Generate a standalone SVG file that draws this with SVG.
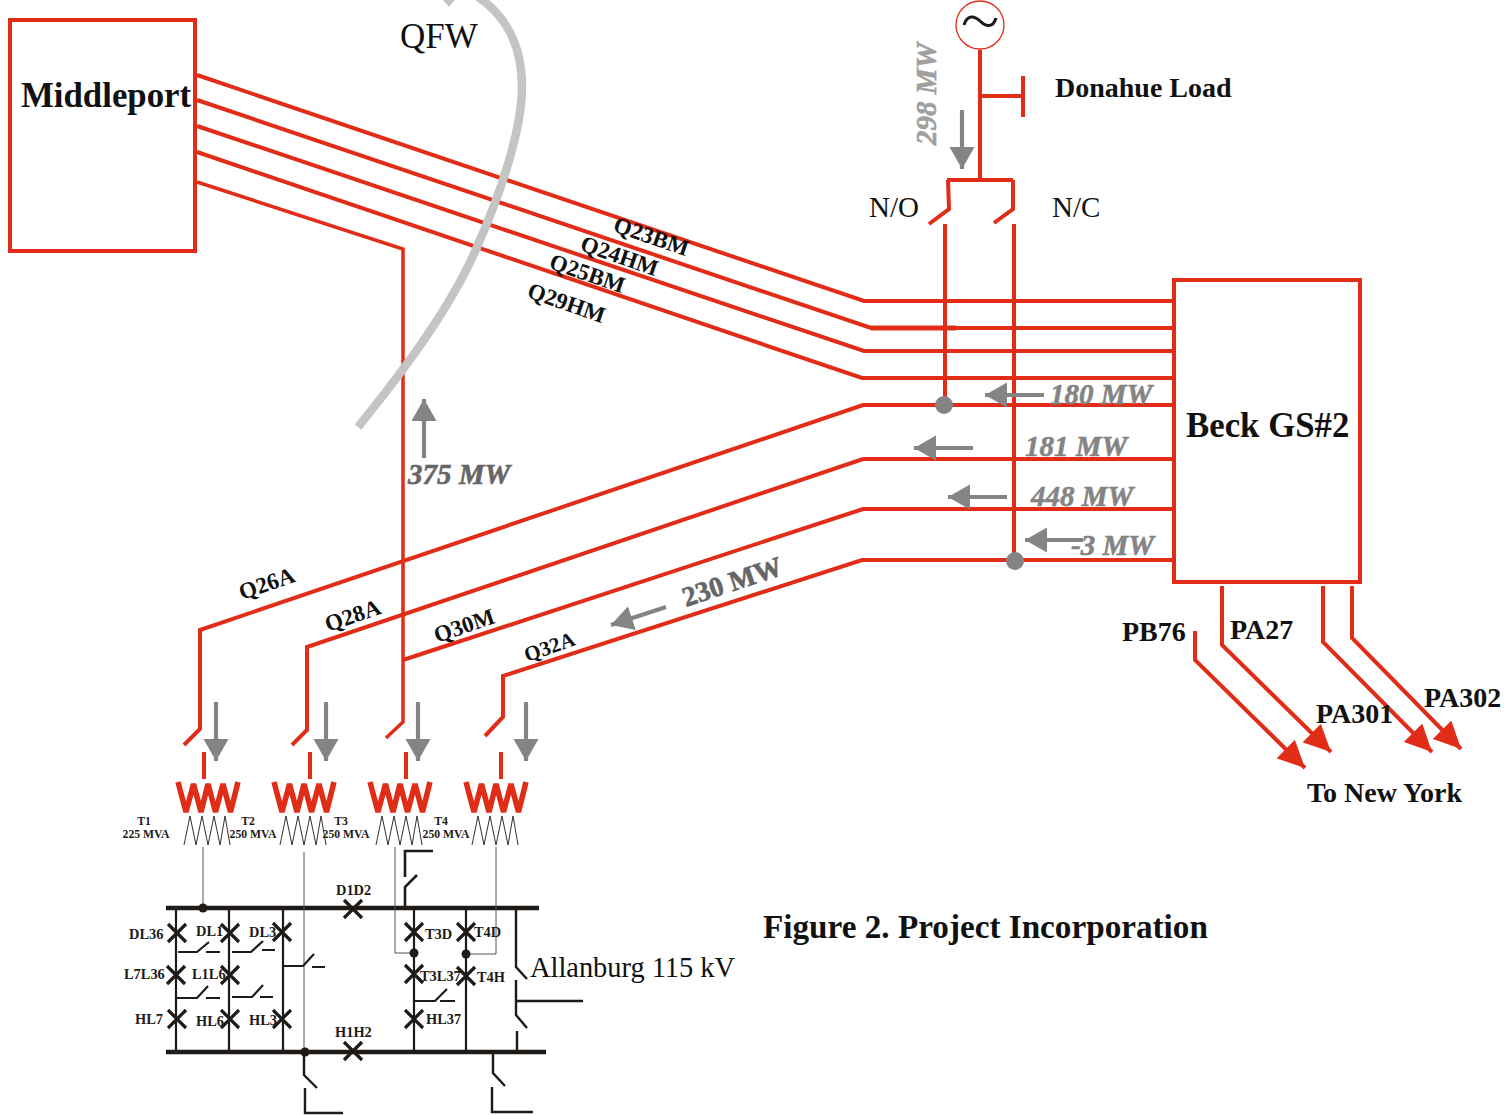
<svg xmlns="http://www.w3.org/2000/svg" width="1507" height="1115" viewBox="0 0 1507 1115">
<defs>
<marker id="g" markerUnits="userSpaceOnUse" markerWidth="26" markerHeight="26" refX="22" refY="12.5" orient="auto"><path d="M0 0L22 12.5L0 25Z" fill="#848484"/></marker>
<marker id="r" markerUnits="userSpaceOnUse" markerWidth="28" markerHeight="26" refX="27" refY="13" orient="auto"><path d="M0 0L27 13L0 26Z" fill="#e12c18"/></marker>
<path id="www" d="M1 0L9 30L16.5 2L24 30L31 2L38.5 30L46 2L53.5 30L61 0" fill="none" stroke="#e12c18" stroke-width="5.5" stroke-linejoin="bevel"/>
<path id="zig" d="M0 29L6 0L12 29L18 0L24 29L30 0L36 29L41 0L46 29" fill="none" stroke="#1e1a17" stroke-width="0.9"/>
<path id="x" d="M-9 -9L9 9M-9 9L9 -9" fill="none" stroke="#1e1a17" stroke-width="3.2"/>
</defs>
<style>
.r{fill:none;stroke:#e12c18;stroke-width:4}
.k{fill:none;stroke:#1e1a17;stroke-width:2.2}
.kb{fill:none;stroke:#1e1a17;stroke-width:2.4}
.th{fill:none;stroke:#555;stroke-width:1}
.ga{fill:none;stroke:#848484;stroke-width:4.2;marker-end:url(#g)}
.ra{fill:none;stroke:#e12c18;stroke-width:4;marker-end:url(#r)}
text{font-family:"Liberation Serif",serif;fill:#111}
.b{font-weight:bold}
.mw{font-weight:bold;font-style:italic;fill:#848484;font-size:29px;stroke:#848484;stroke-width:0.6}
.ln{font-weight:bold;font-size:23px;fill:#111}
.sm{font-weight:bold;font-size:14.4px;fill:#1e1a17}
.t{font-weight:bold;font-size:11.7px;fill:#1e1a17;text-anchor:middle}
</style>
<g id="connectors">
<path class="r" d="M197 75L864 301H1174"/>
<path class="r" d="M197 100L871 328H1174"/>
<path class="r" d="M197 126L864 351H1174"/>
<path class="r" d="M197 152L862 378H1174"/>
<path class="r" d="M871 328H956" style="stroke-width:5"/>
<path class="r" d="M197 182L403 249V722L386 738" style="stroke-width:3.5"/>
<path d="M358 427C400 375 450 310 477 247C500 195 522 130 522 87C522 45 505 15 478 -3" fill="none" stroke="#c4c4c4" stroke-width="8.5"/>
<path d="M443 0H455L449 7Z" fill="#c4c4c4"/>
<path class="r" d="M184 745L200 729V630L863 405H1174"/>
<path class="r" d="M292 745L307 730V647L863 459H1174"/>
<path class="r" d="M403 660L863 509H1174"/>
<path class="r" d="M485 736L503 717V676L862 560H1174"/>
<path class="r" d="M204 752V779M310 752V779M406 752V779M501 752V779"/>
<path class="r" d="M980 50V180M980 96H1023M1023 76V117"/>
<path class="r" d="M947 180H1013M948 180L949 209L929 224M1013 180V209L994 223M945 224V405M1014 224V560"/>
<path class="ra" d="M1195 631V660L1305 768"/>
<path class="ra" d="M1222 586V645L1331 752"/>
<path class="ra" d="M1323 586V642L1432 752"/>
<path class="ra" d="M1352 586V638L1461 749"/>
<path class="ga" d="M216 702V761"/>
<path class="ga" d="M326 702V761"/>
<path class="ga" d="M418 702V761"/>
<path class="ga" d="M526 702V761"/>
<path class="ga" d="M962 110V169"/>
<path class="ga" d="M424 458V399"/>
<path class="ga" d="M1044 395H985"/>
<path class="ga" d="M973 448H914"/>
<path class="ga" d="M1007 497H948"/>
<path class="ga" d="M1083 540H1025"/>
<path class="ga" d="M666 607L611 625"/>
<circle cx="944" cy="405" r="9" fill="#848484"/>
<circle cx="1015" cy="561" r="9" fill="#848484"/>
<path d="M166 908H539M166 1052H546" fill="none" stroke="#1e1a17" stroke-width="4.5"/>
<path class="k" d="M176 908V1052M229 908V1052M283 908V1052M414 908V1052M466 908V1052"/>
<path class="th" d="M203 847V908M304 852V1052M395 847V953H414M496 847V954H466"/>
<path class="kb" d="M405 877V851H433M405 906V887L417 875" style="stroke-width:2.6"/>
<path class="k" d="M178 952H197L209 942M206 952H220M232 952H251L263 941M262 950H275M177 998H197L208 986M206 998H220M232 997H252L263 985M260 997H273M283 966H303L314 954M312 967H325M415 1001H435L447 989M440 1001H455"/>
<path class="kb" d="M516 908V967L527 979M516 980V1015L527 1028M516 1001H583M517 1031V1052"/>
<path class="kb" d="M304 1052V1075L317 1088M305 1088V1113H343M493 1052V1073L505 1086M492 1087V1112H533"/>
<circle cx="203" cy="908" r="4.5" fill="#1e1a17"/>
<circle cx="305" cy="1052" r="4.5" fill="#1e1a17"/>
<circle cx="414" cy="953" r="4.5" fill="#1e1a17"/>
<circle cx="466" cy="954" r="4.5" fill="#1e1a17"/>
</g>
<g id="qfw"><text x="400" y="48" font-size="35">QFW</text></g>
<g id="middleport"><rect x="10" y="20" width="185" height="231" fill="none" stroke="#e12c18" stroke-width="4"/><text x="21" y="107" class="b" font-size="34.8">Middleport</text></g>
<g id="beck"><rect x="1174" y="280" width="186" height="302" fill="none" stroke="#e12c18" stroke-width="4"/><text x="1186" y="437" class="b" font-size="34.8">Beck GS#2</text></g>
<g id="generator"><circle cx="980" cy="25" r="24" fill="#fff" stroke="#e12c18" stroke-width="1.3"/><path d="M964 25C967 15 974 15 980 21C986 27 993 28 996 18" fill="none" stroke="#1e1a17" stroke-width="3"/></g>
<g id="labels">
<text x="1055" y="97" class="b" font-size="28" fill="#1e1a17">Donahue Load</text>
<text x="869" y="217" font-size="29">N/O</text>
<text x="1052" y="217" font-size="29">N/C</text>
<text class="mw" transform="translate(936 145) rotate(-90)" style="fill:#a0a0a0;stroke:#a0a0a0">298 MW</text>
<text class="mw" x="1050" y="404">180 MW</text>
<text class="mw" x="1025" y="456">181 MW</text>
<text class="mw" x="1031" y="506">448 MW</text>
<text class="mw" x="1071" y="555">-3 MW</text>
<text class="mw" x="408" y="484" style="fill:#666;stroke:#666">375 MW</text>
<text class="mw" transform="translate(686 607) rotate(-18.5)" style="font-style:normal;font-size:28px;fill:#666;stroke:#666">230 MW</text>
<text class="ln" transform="translate(612 231) rotate(19)">Q23BM</text>
<text class="ln" transform="translate(579 250) rotate(19)">Q24HM</text>
<text class="ln" transform="translate(548 268) rotate(19)">Q25BM</text>
<text class="ln" transform="translate(526 297) rotate(19)">Q29HM</text>
<text class="ln" transform="translate(242 600) rotate(-19)">Q26A</text>
<text class="ln" transform="translate(328 632) rotate(-19)">Q28A</text>
<text class="ln" transform="translate(437 643) rotate(-19)">Q30M</text>
<text class="ln" transform="translate(527 662) rotate(-19)" style="font-size:21px">Q32A</text>
<text x="1122" y="641" class="b" font-size="28">PB76</text>
<text x="1230" y="639" class="b" font-size="28">PA27</text>
<text x="1316" y="723" class="b" font-size="28">PA301</text>
<text x="1424" y="707" class="b" font-size="28">PA302</text>
<text x="1307" y="802" class="b" font-size="28">To New York</text>
<text x="763" y="938" class="b" font-size="33.2">Figure 2. Project Incorporation</text>
<text x="530" y="977" font-size="28.4">Allanburg 115 kV</text>
</g>
<g id="transformers">
<use href="#www" x="177" y="782"/><use href="#www" x="273" y="782"/><use href="#www" x="369" y="782"/><use href="#www" x="465" y="782"/>
<use href="#zig" x="184" y="816"/><use href="#zig" x="280" y="816"/><use href="#zig" x="376" y="816"/><use href="#zig" x="472" y="816"/>
<text class="t" x="144" y="825">T1</text><text class="t" x="146" y="838">225 MVA</text>
<text class="t" x="248" y="825">T2</text><text class="t" x="253" y="838">250 MVA</text>
<text class="t" x="341" y="825">T3</text><text class="t" x="346" y="838">250 MVA</text>
<text class="t" x="441" y="825">T4</text><text class="t" x="446" y="838">250 MVA</text>
</g>
<g id="breakers">
<use href="#x" x="353" y="909"/><use href="#x" x="353" y="1051"/>
<use href="#x" x="177" y="933"/><use href="#x" x="230" y="933"/><use href="#x" x="282" y="932"/><use href="#x" x="414" y="932"/><use href="#x" x="466" y="932"/>
<use href="#x" x="176" y="975"/><use href="#x" x="230" y="975"/><use href="#x" x="414" y="974"/><use href="#x" x="466" y="976"/>
<use href="#x" x="177" y="1019"/><use href="#x" x="230" y="1019"/><use href="#x" x="282" y="1019"/><use href="#x" x="414" y="1019"/>
<text class="sm" x="336" y="895">D1D2</text><text class="sm" x="335" y="1037">H1H2</text>
<text class="sm" x="129" y="939">DL36</text><text class="sm" x="196" y="936">DL1</text><text class="sm" x="249" y="937">DL3</text>
<text class="sm" x="425" y="939">T3D</text><text class="sm" x="474" y="937">T4D</text>
<text class="sm" x="124" y="979">L7L36</text><text class="sm" x="192" y="979">L1L6</text>
<text class="sm" x="420" y="981">T3L37</text><text class="sm" x="477" y="982">T4H</text>
<text class="sm" x="135" y="1024">HL7</text><text class="sm" x="196" y="1026">HL6</text><text class="sm" x="249" y="1025">HL3</text><text class="sm" x="426" y="1024">HL37</text>
</g>
</svg>
